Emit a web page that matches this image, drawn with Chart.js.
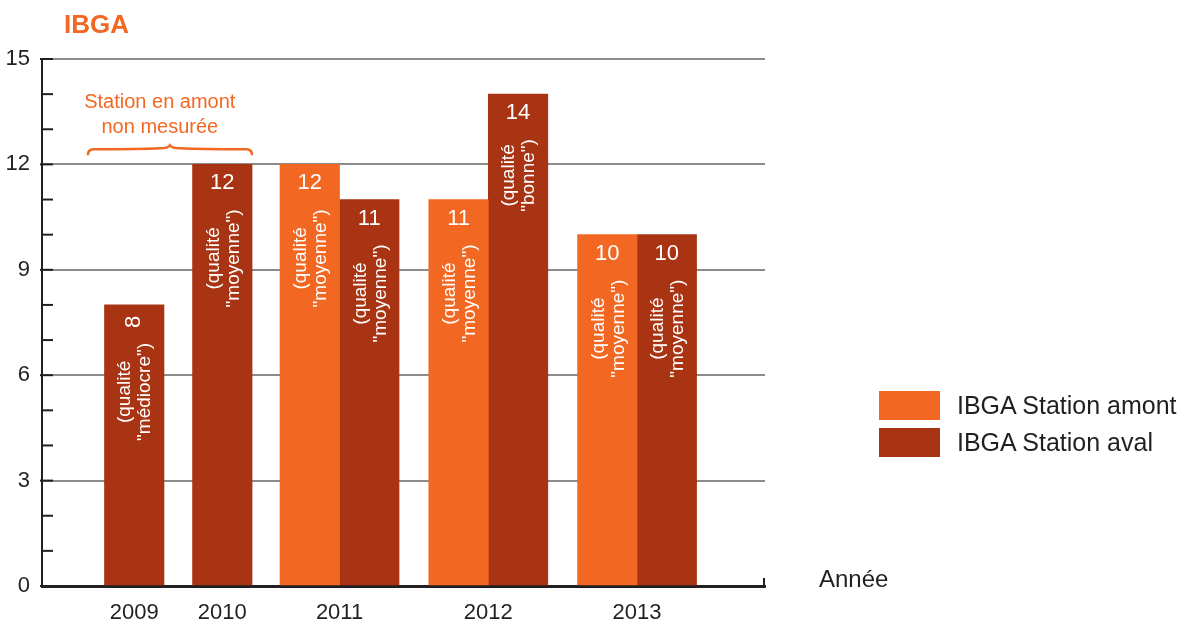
<!DOCTYPE html>
<html lang="fr">
<head>
<meta charset="UTF-8">
<title>IBGA</title>
<script src="https://cdn.jsdelivr.net/npm/chart.js"></script>
<style>
  body { margin: 0; background: #fff; font-family: "Liberation Sans", Arial, sans-serif; }
  .cadre { position: relative; width: 1179px; height: 624px; }
  .titre { position: absolute; left: 64px; top: 11px; font-size: 26px; line-height: 26px; font-weight: bold; color: #f26722; }
  .legende { position: absolute; left: 879px; top: 391px; }
  .ligne { display: flex; align-items: center; height: 29px; margin-bottom: 8px; font-size: 25px; color: #231f20; }
  .carre { width: 61px; height: 29px; margin-right: 17px; }
</style>
</head>
<body>
<div class="cadre">
  <canvas id="graphique" width="1179" height="624"></canvas>
  <div class="titre">IBGA</div>
  <div class="legende" id="legende"></div>
</div>

<script>
  var annees = ['2009', '2010', '2011', '2012', '2013']
  var amont = [null, null, 12, 11, 10]
  var aval = [8, 12, 11, 14, 10]
  var qualite_amont = [null, null, 'moyenne', 'moyenne', 'moyenne']
  var qualite_aval = ['médiocre', 'moyenne', 'moyenne', 'bonne', 'moyenne']
  var graduations = [0, 3, 6, 9, 12, 15]

  // place de chaque annee sur l'axe x (en largeurs de barre)
  var place_annee = [1.55, 3.03, 5, 7.5, 10]

  var orange = '#f26722'
  var brique = '#a83413'
  var police = '"Liberation Sans", Arial, sans-serif'

  Chart.defaults.font.family = police
  Chart.defaults.color = '#231f20'

  function points(valeurs) {
    return valeurs.map(function (v, i) { return { x: place_annee[i], y: v } })
  }

  // valeurs et mentions de qualite dans les barres
  const etiquettes = {
    id: 'etiquettes',
    afterDatasetsDraw(chart) {
      const ctx = chart.ctx
      ctx.save()
      ctx.fillStyle = '#fff'
      ctx.textAlign = 'center'
      ctx.textBaseline = 'middle'
      chart.data.datasets.forEach(function (ds, d) {
        const meta = chart.getDatasetMeta(d)
        meta.data.forEach(function (barre, i) {
          const valeur = ds.data[i].y
          if (valeur === null) return
          ctx.font = '22px ' + police
          if (valeur < 10) {
            ctx.save()
            ctx.translate(barre.x, barre.y + 17)
            ctx.rotate(-Math.PI / 2)
            ctx.fillText(valeur, 0, 0)
            ctx.restore()
          } else {
            ctx.fillText(valeur, barre.x, barre.y + 19)
          }
          ctx.font = '19px ' + police
          const l1 = '(qualité'
          const l2 = '"' + ds.qualite[i] + '")'
          const w = Math.max(ctx.measureText(l1).width, ctx.measureText(l2).width)
          const debut = valeur < 10 ? 38 : 45
          ctx.save()
          ctx.translate(barre.x, barre.y + debut + w / 2)
          ctx.rotate(-Math.PI / 2)
          ctx.fillText(l1, 0, -9)
          ctx.fillText(l2, 0, 11)
          ctx.restore()
        })
      })
      ctx.restore()
    }
  }

  // petits traits sur les axes, accolade et textes annexes
  const habillage = {
    id: 'habillage',
    afterDraw(chart) {
      const ctx = chart.ctx
      const xs = chart.scales.x
      const ys = chart.scales.y
      const zone = chart.chartArea
      ctx.save()
      ctx.strokeStyle = '#231f20'
      ctx.lineWidth = 2
      for (let v = 0; v <= 15; v++) {
        const y = ys.getPixelForValue(v)
        ctx.beginPath()
        ctx.moveTo(v % 3 == 0 ? zone.left - 2 : zone.left, y)
        ctx.lineTo(zone.left + 11, y)
        ctx.stroke()
      }
      ctx.beginPath()
      ctx.moveTo(zone.right - 1, zone.bottom)
      ctx.lineTo(zone.right - 1, zone.bottom - 8)
      ctx.stroke()

      ctx.fillStyle = '#231f20'
      ctx.font = '24px ' + police
      ctx.textAlign = 'left'
      ctx.textBaseline = 'middle'
      ctx.fillText('Année', zone.right + 54, zone.bottom - 6)

      // accolade au-dessus de 2009 et 2010
      const g = xs.getPixelForValue(0.77)
      const dr = xs.getPixelForValue(3.53)
      const m = (g + dr) / 2
      const h = ys.getPixelForValue(12.4)
      ctx.strokeStyle = orange
      ctx.lineWidth = 2.5
      ctx.beginPath()
      ctx.moveTo(g, h + 5)
      ctx.quadraticCurveTo(g, h - 1, g + 6, h - 1)
      ctx.quadraticCurveTo(m - 30, h - 1, m - 10, h - 2)
      ctx.quadraticCurveTo(m - 2, h - 2, m, h - 5)
      ctx.quadraticCurveTo(m + 2, h - 2, m + 10, h - 2)
      ctx.quadraticCurveTo(m + 30, h - 1, dr - 6, h - 1)
      ctx.quadraticCurveTo(dr, h - 1, dr, h + 5)
      ctx.stroke()

      ctx.fillStyle = orange
      ctx.font = '20px ' + police
      ctx.textAlign = 'center'
      ctx.fillText('Station en amont', xs.getPixelForValue(1.98), ys.getPixelForValue(13.75))
      ctx.fillText('non mesurée', xs.getPixelForValue(1.98), ys.getPixelForValue(13.04))
      ctx.restore()
    }
  }

  const config = {
    type: 'bar',
    data: {
      datasets: [{
        label: 'IBGA Station amont',
        data: points(amont),
        qualite: qualite_amont,
        backgroundColor: orange
      }, {
        label: 'IBGA Station aval',
        data: points(aval),
        qualite: qualite_aval,
        backgroundColor: brique
      }]
    },
    options: {
      responsive: false,
      animation: false,
      datasets: { bar: { barThickness: 59.5, skipNull: true } },
      layout: { padding: { top: 59, right: 414, left: 0, bottom: 0 } },
      plugins: {
        legend: { display: false },
        tooltip: { enabled: false }
      },
      scales: {
        x: {
          type: 'linear',
          min: 0,
          max: 12.15,
          offset: false,
          grid: { display: false, offset: false, drawTicks: false },
          border: { color: '#231f20', width: 3 },
          afterBuildTicks: function (s) { s.ticks = place_annee.map(function (v) { return { value: v } }) },
          afterFit: function (s) { s.height = 38 },
          ticks: {
            autoSkip: false,
            maxRotation: 0,
            padding: 14,
            font: { size: 22 },
            callback: function (v) { return annees[place_annee.indexOf(v)] }
          }
        },
        y: {
          min: 0,
          max: 15,
          afterBuildTicks: function (s) { s.ticks = graduations.map(function (v) { return { value: v } }) },
          afterFit: function (s) { s.width = 42 },
          grid: {
            drawTicks: false,
            lineWidth: 2,
            color: function (c) { return c.tick && c.tick.value === 0 ? 'transparent' : '#8c8c8c' }
          },
          border: { color: '#231f20', width: 2 },
          ticks: { padding: 12, font: { size: 22 } }
        }
      }
    },
    plugins: [etiquettes, habillage]
  }

  const graphique = new Chart(document.getElementById('graphique'), config)

  // legende a droite
  var legende = document.getElementById('legende')
  graphique.data.datasets.forEach(function (ds) {
    var ligne = document.createElement('div')
    ligne.className = 'ligne'
    ligne.innerHTML = '<div class="carre" style="background:' + ds.backgroundColor + '"></div><span>' + ds.label + '</span>'
    legende.appendChild(ligne)
  })
</script>
</body>
</html>
